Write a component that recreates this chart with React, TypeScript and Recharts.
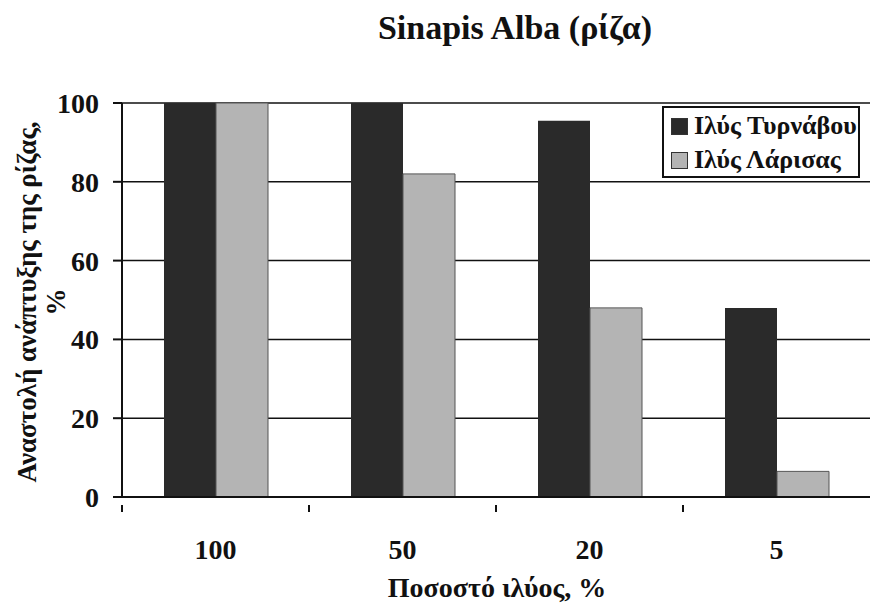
import { BarChart, Bar, XAxis, YAxis, CartesianGrid, Label } from 'recharts'

const categories = ['100', '50', '20', '5']
const tyrnavou = [100, 100, 95.5, 48]
const larisa = [100, 82, 48, 6.5]
const yTicks = [0, 20, 40, 60, 80, 100]
const seriesNames = ['Ιλύς Τυρνάβου', 'Ιλύς Λάρισας']

const FONT = '"Liberation Serif", "Times New Roman", serif'
const DARK = '#2a2a2a'
const LIGHT = '#b4b4b4'

const data = categories.map((c, i) => ({ name: c, tyrnavou: tyrnavou[i], larisa: larisa[i] }))

function XTick(props: any) {
  const { x, y, payload } = props
  const half = payload && payload.offset ? payload.offset : 0
  return (
    <g>
      <line x1={x - half} x2={x - half} y1={y} y2={y + 7} stroke="#111" strokeWidth={2} />
      <text
        x={x}
        y={y + 44}
        textAnchor="middle"
        dominantBaseline="central"
        fontFamily={FONT}
        fontWeight="bold"
        fontSize={28}
        fill="#111"
      >
        {payload.value}
      </text>
    </g>
  )
}

function YLabel() {
  return (
    <g fontFamily={FONT} fontWeight="bold" fontSize={27} fill="#111">
      <text x={27} y={302} transform="rotate(-90 27 302)" textAnchor="middle" dominantBaseline="central">
        Αναστολή ανάπτυξης της ρίζας,
      </text>
      <text x={56} y={302} transform="rotate(-90 56 302)" textAnchor="middle" dominantBaseline="central">
        %
      </text>
    </g>
  )
}

function XLabel() {
  return (
    <text
      x={497}
      y={587}
      textAnchor="middle"
      dominantBaseline="central"
      fontFamily={FONT}
      fontWeight="bold"
      fontSize={28}
      fill="#111"
    >
      Ποσοστό ιλύος, %
    </text>
  )
}

function LegendBox() {
  const colors = [DARK, LIGHT]
  return (
    <div
      style={{
        position: 'absolute',
        top: 106,
        left: 662,
        width: 194,
        height: 67,
        border: '2px solid #111',
        background: '#fff',
        paddingTop: 1,
      }}
    >
      {seriesNames.map((label, i) => (
        <div key={label} style={{ display: 'flex', alignItems: 'center', height: 34, paddingLeft: 7 }}>
          <span
            style={{
              display: 'inline-block',
              width: 15,
              height: 15,
              background: colors[i],
              border: '1px solid #333',
              marginRight: 6,
            }}
          />
          <span style={{ fontFamily: FONT, fontWeight: 'bold', fontSize: 26, lineHeight: '30px', color: '#111', whiteSpace: 'nowrap' }}>
            {label}
          </span>
        </div>
      ))}
    </div>
  )
}

export default function App() {
  return (
    <div style={{ position: 'absolute', top: 0, left: 0, width: 870, height: 603, background: '#fff' }}>
      <div
        style={{
          position: 'absolute',
          top: 8,
          left: 265,
          width: 500,
          textAlign: 'center',
          fontFamily: FONT,
          fontWeight: 'bold',
          fontSize: 34,
          lineHeight: '40px',
          color: '#111',
        }}
      >
        Sinapis Alba (ρίζα)
      </div>
      <BarChart
        width={870}
        height={603}
        data={data}
        margin={{ top: 103, right: 0, bottom: 0, left: 0 }}
        barCategoryGap={42}
        barGap={0}
      >
        <CartesianGrid vertical={false} stroke="#111" strokeWidth={1.5} />
        <XAxis
          dataKey="name"
          height={106}
          axisLine={{ stroke: '#111', strokeWidth: 2 }}
          tickLine={false}
          tick={<XTick />}
          interval={0}
        >
          <Label content={<XLabel />} />
        </XAxis>
        <YAxis
          width={122}
          domain={[0, 100]}
          ticks={yTicks}
          axisLine={{ stroke: '#111', strokeWidth: 2 }}
          tickLine={{ stroke: '#111', strokeWidth: 2 }}
          tickSize={9}
          tickMargin={14}
          tick={{ fontFamily: FONT, fontWeight: 'bold', fontSize: 28, fill: '#111' }}
        >
          <Label content={<YLabel />} />
        </YAxis>
        <Bar dataKey="tyrnavou" name={seriesNames[0]} fill={DARK} isAnimationActive={false} />
        <Bar dataKey="larisa" name={seriesNames[1]} fill={LIGHT} stroke="#555" strokeWidth={1} isAnimationActive={false} />
      </BarChart>
      <LegendBox />
    </div>
  )
}
